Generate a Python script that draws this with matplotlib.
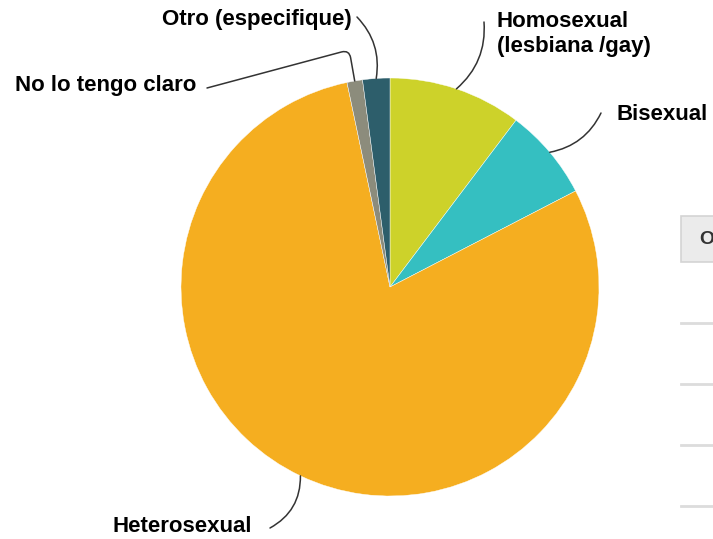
import numpy as np
import matplotlib.pyplot as plt
from matplotlib.patches import Rectangle

# orientation sexual - share of answers (%)
labels = ["Homosexual\n(lesbiana /gay)", "Bisexual", "Heterosexual",
          "No lo tengo claro", "Otro (especifique)"]
values = [10.3, 7.1, 79.3, 1.2, 2.1]
colors = ["#cdd22a", "#35bfc1", "#f5ae20", "#8c8c7c", "#2d5e6b"]

W, H = 713, 539
fig = plt.figure(figsize=(W / 100, H / 100), dpi=100)
ax = fig.add_axes([0, 0, 1, 1])

cx, cy, r = 390, H - 287, 209
wedges, _ = ax.pie(values, colors=colors, startangle=90, counterclock=False,
                   center=(cx, cy), radius=r, frame=True,
                   wedgeprops=dict(linewidth=0.3, edgecolor="white"))
ax.set_xlim(0, W)
ax.set_ylim(0, H)
ax.axis("off")

# label text position, alignment, connector style, connector start
label_pos = [
    ((497, H - 34), "left", "arc3,rad=-0.25", (484, H - 22)),
    ((617, H - 114), "left", "arc3,rad=-0.25", (601, H - 113)),
    ((113, H - 526), "left", "arc3,rad=0.3", (270, H - 528)),
    ((196, H - 85), "right", "angle,angleA=15,angleB=-80,rad=8", (207, H - 88)),
    ((352, H - 20), "right", "arc3,rad=-0.25", (357, H - 17)),
]

for w, lab, (tpos, ha, cs, start) in zip(wedges, labels, label_pos):
    mid = np.deg2rad((w.theta1 + w.theta2) / 2)
    edge = (cx + r * np.cos(mid), cy + r * np.sin(mid))
    ax.text(tpos[0], tpos[1], lab, ha=ha, va="center", fontsize=16,
            fontweight="bold", family="Liberation Sans", color="black",
            linespacing=1.28)
    ax.annotate("", xy=edge, xytext=start,
                arrowprops=dict(arrowstyle="-", color="#333333", lw=1.1,
                                connectionstyle=cs, shrinkA=0, shrinkB=0))

# fragment of a table on the right edge
ax.add_patch(Rectangle((681, H - 262), 40, 46, facecolor="#ebebeb",
                       edgecolor="#d4d4d4", lw=1.2))
ax.text(699, H - 239, "O", ha="left", va="center", fontsize=14,
        fontweight="bold", family="Liberation Sans", color="#333333")
for y in [323, 384, 445, 506]:
    ax.plot([681, W], [H - y, H - y], color="#dcdcdc", lw=2)

fig.savefig("out.png", dpi=100)
